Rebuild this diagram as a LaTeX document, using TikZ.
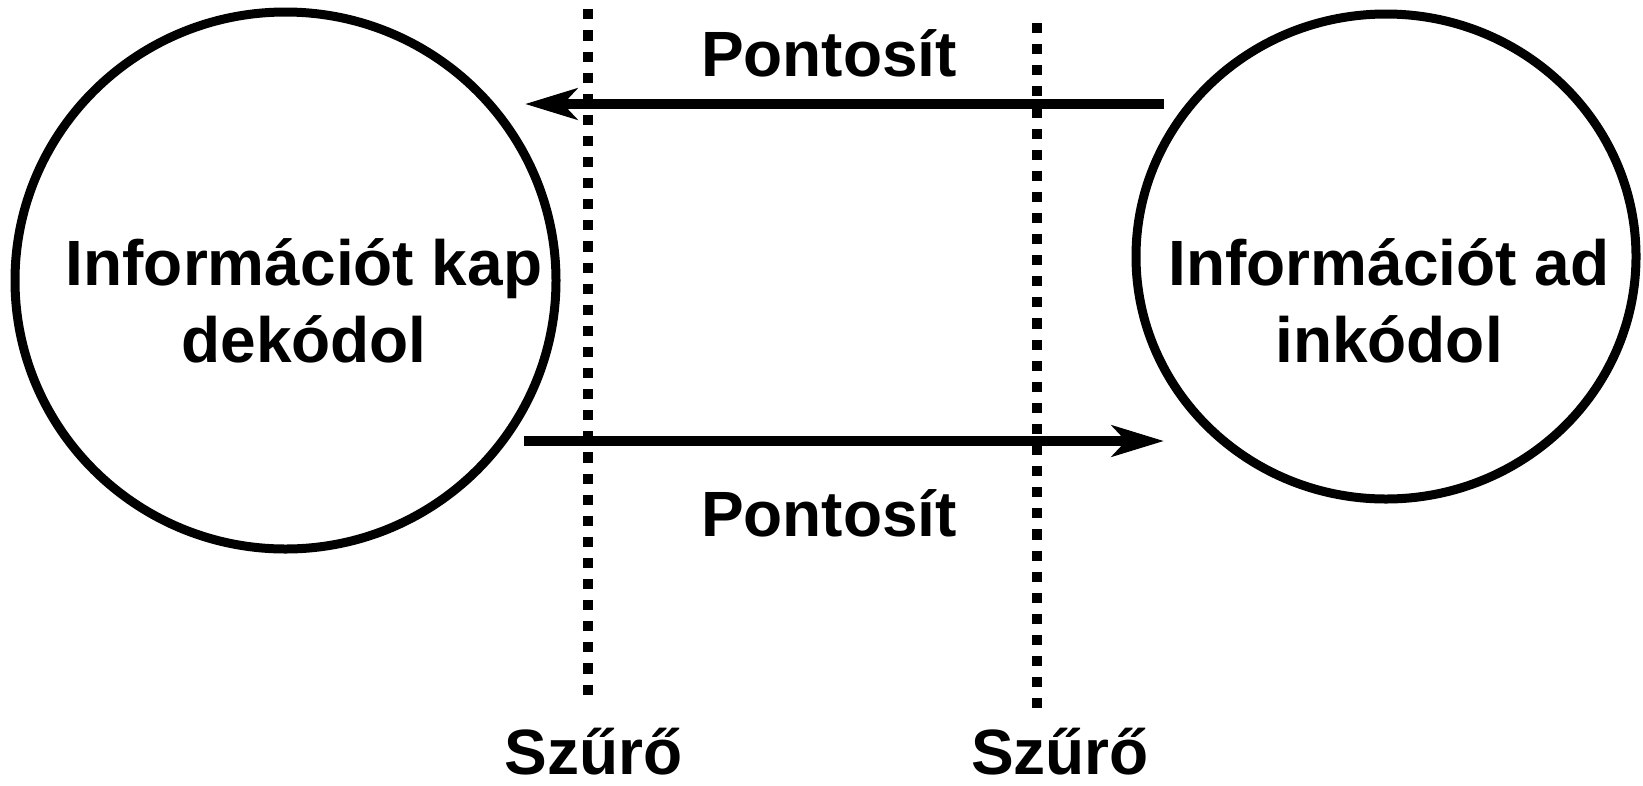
\documentclass[tikz,border=0pt]{standalone}
\usepackage{fontspec}
\setmainfont{Liberation Sans}
\usetikzlibrary{shapes.geometric,arrows.meta}

\tikzset{
  party/.style={draw, ellipse, line width=9pt, inner sep=0pt},
  flow/.style={line width=9.5pt, -{Stealth[length=52pt,width=31pt,inset=14pt]}},
  filterline/.style={line width=10pt, dash pattern=on 10.1pt off 11pt},
  lbl/.style={inner sep=0pt, anchor=base, font=\bfseries\fontsize{64pt}{77pt}\selectfont}
}

\begin{document}
\begin{tikzpicture}[x=1pt, y=-1pt]
  \useasboundingbox (0,0) rectangle (1643,785);

  % the two parties
  \node[party, minimum width=541pt, minimum height=537pt] (recv) at (285.5,280.5) {};
  \node[party, minimum width=500pt, minimum height=485pt] (send) at (1386,256.5) {};

  \node[lbl] (recv1) at (304,285) {Információt kap};
  \node[lbl] (recv2) at (304,362) {dekódol};
  \node[lbl] (send1) at (1389,285) {Információt ad};
  \node[lbl] (send2) at (1389,362) {inkódol};

  % filters
  \coordinate (f1top) at (588,9.3);
  \coordinate (f1bot) at (588,695);
  \coordinate (f2top) at (1036.5,23);
  \coordinate (f2bot) at (1036.5,711);
  \draw[filterline] (f1top) -- (f1bot);
  \draw[filterline] (f2top) -- (f2bot);

  % messages
  \coordinate (topstart) at (1164,104);
  \coordinate (topend) at (525,104);
  \coordinate (botstart) at (524,441);
  \coordinate (botend) at (1164,441);
  \draw[flow] (topstart) -- (topend);
  \draw[flow] (botstart) -- (botend);

  \node[lbl] (ptop) at (829,76) {Pontosít};
  \node[lbl] (pbot) at (829,536) {Pontosít};

  \node[lbl] (sz1) at (593.5,774) {Szűrő};
  \node[lbl] (sz2) at (1060,774) {Szűrő};
\end{tikzpicture}
\end{document}
